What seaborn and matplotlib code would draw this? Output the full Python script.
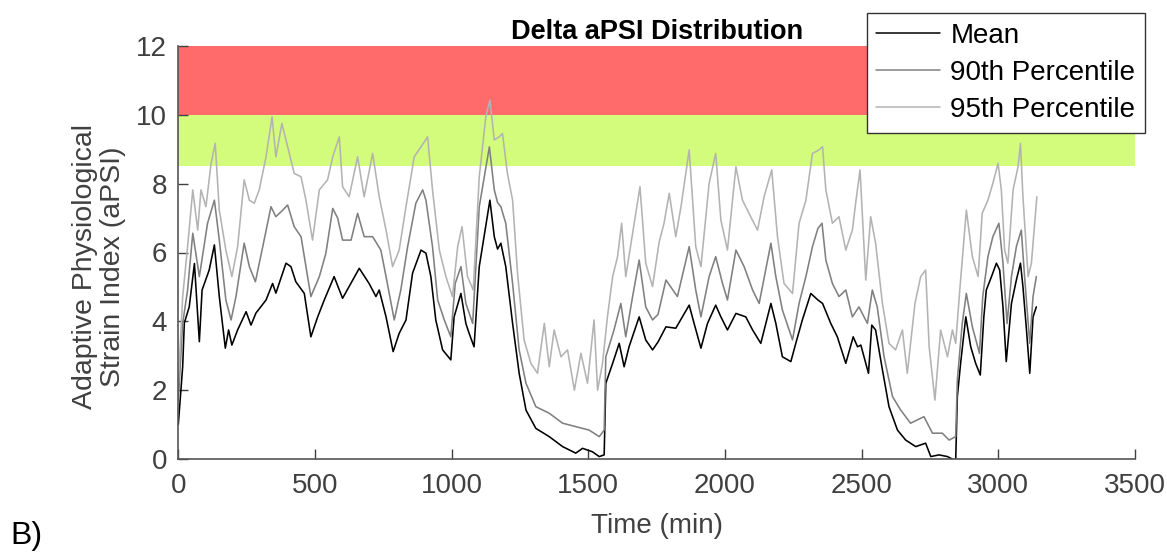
import matplotlib
matplotlib.use("Agg")
import matplotlib.pyplot as plt
import seaborn as sns
import pandas as pd
from matplotlib.lines import Line2D

# ---- data ----
mean_t = [0, 16, 22, 40, 59, 77, 87, 113, 132, 150, 172, 184, 196, 217, 248, 266, 284, 321, 345, 357,
          394, 412, 430, 461, 485, 510, 534, 570, 601, 662, 698, 723, 735, 760, 786, 808, 833, 857, 888,
          906, 924, 942, 967, 997, 1009, 1034, 1052, 1064, 1082, 1101, 1140, 1156, 1168, 1180, 1198, 1223,
          1247, 1272, 1308, 1357, 1406, 1454, 1479, 1515, 1540, 1558, 1564, 1589, 1613, 1631, 1649, 1686,
          1710, 1735, 1755, 1784, 1820, 1869, 1887, 1912, 1936, 1966, 1985, 2009, 2040, 2076, 2101, 2131,
          2168, 2186, 2210, 2241, 2259, 2283, 2314, 2340, 2357, 2387, 2411, 2442, 2469, 2485, 2497, 2525,
          2537, 2551, 2576, 2600, 2631, 2661, 2698, 2734, 2753, 2783, 2814, 2844, 2850, 2862, 2881, 2899,
          2917, 2934, 2947, 2956, 2975, 2993, 3005, 3017, 3029, 3048, 3066, 3081, 3090, 3103, 3115, 3127,
          3139]
mean_v = [1.0, 2.68, 3.95, 4.42, 5.68, 3.41, 4.91, 5.49, 6.22, 4.72, 3.22, 3.75, 3.31, 3.75, 4.28, 3.89,
          4.24, 4.62, 5.10, 4.82, 5.69, 5.59, 5.15, 4.81, 3.55, 4.13, 4.62, 5.30, 4.67, 5.54, 5.10, 4.72,
          4.91, 4.13, 3.12, 3.65, 4.04, 5.40, 6.07, 5.98, 5.30, 4.04, 3.17, 2.88, 4.13, 4.81, 3.94, 3.65,
          3.26, 5.59, 7.52, 6.46, 6.10, 6.27, 5.59, 3.94, 2.49, 1.42, 0.89, 0.65, 0.36, 0.17, 0.31, 0.21,
          0.07, 0.12, 2.20, 2.78, 3.36, 2.68, 3.26, 4.13, 3.46, 3.17, 3.40, 3.84, 3.80, 4.47, 3.94, 3.22,
          3.94, 4.47, 4.13, 3.75, 4.23, 4.13, 3.75, 3.36, 4.52, 3.94, 2.97, 2.83, 3.36, 4.04, 4.81, 4.62,
          4.52, 3.94, 3.55, 2.78, 3.55, 3.26, 3.31, 2.49, 3.89, 3.75, 2.59, 1.52, 0.84, 0.55, 0.36, 0.46,
          0.07, 0.12, 0.07, -0.05, 1.81, 2.78, 4.13, 3.26, 2.78, 2.44, 4.13, 4.91, 5.30, 5.69, 5.49, 4.42,
          2.83, 4.52, 5.20, 5.69, 5.01, 3.75, 2.49, 4.13, 4.42]

p90_t = [0, 16, 34, 53, 77, 107, 132, 150, 174, 193, 211, 241, 260, 282, 309, 339, 357, 382, 400, 424,
         449, 485, 516, 540, 565, 583, 601, 632, 656, 680, 711, 741, 760, 790, 814, 839, 869, 894, 906,
         930, 949, 973, 997, 1013, 1034, 1052, 1077, 1101, 1138, 1156, 1168, 1180, 1198, 1223, 1247, 1272,
         1308, 1357, 1406, 1454, 1503, 1540, 1558, 1564, 1594, 1619, 1637, 1662, 1686, 1710, 1735, 1755,
         1784, 1826, 1869, 1893, 1912, 1942, 1966, 1991, 2009, 2040, 2070, 2101, 2125, 2168, 2186, 2210,
         2247, 2271, 2296, 2320, 2340, 2355, 2369, 2393, 2417, 2442, 2466, 2490, 2521, 2539, 2557, 2582,
         2613, 2643, 2679, 2728, 2759, 2795, 2820, 2844, 2850, 2868, 2883, 2905, 2931, 2943, 2962, 2980,
         3002, 3017, 3032, 3048, 3066, 3084, 3096, 3115, 3127, 3139]
p90_v = [1.7, 3.94, 4.91, 6.56, 5.30, 6.85, 7.52, 6.36, 4.62, 4.04, 4.72, 6.27, 5.59, 5.15, 6.17, 7.33,
         7.04, 7.23, 7.38, 6.75, 6.46, 4.72, 5.30, 5.98, 7.28, 7.00, 6.36, 6.36, 7.14, 6.46, 6.46, 6.07,
         5.30, 4.04, 4.91, 6.17, 7.43, 7.82, 7.52, 6.17, 4.62, 4.04, 3.55, 5.10, 5.59, 4.52, 3.94, 7.33,
         9.07, 7.82, 7.45, 7.33, 6.85, 5.10, 3.17, 2.20, 1.52, 1.33, 1.04, 0.94, 0.84, 0.65, 0.84, 2.97,
         3.75, 4.52, 3.55, 4.72, 5.78, 4.42, 4.04, 4.20, 5.20, 4.72, 6.17, 4.91, 4.13, 5.30, 5.88, 5.10,
         4.62, 6.07, 5.59, 4.91, 4.52, 6.27, 5.30, 4.33, 3.46, 4.52, 5.30, 6.17, 6.70, 6.85, 5.78, 5.10,
         4.72, 4.91, 4.13, 4.42, 3.94, 4.91, 4.42, 2.97, 1.81, 1.42, 1.04, 1.23, 0.75, 0.75, 0.55, 0.65,
         2.30, 3.94, 4.81, 3.84, 3.07, 4.72, 5.88, 6.46, 6.85, 5.69, 3.94, 5.30, 6.17, 6.65, 5.30, 3.36,
         4.72, 5.30]

p95_t = [0, 16, 34, 53, 71, 83, 101, 120, 135, 150, 174, 196, 217, 241, 260, 278, 296, 321, 343, 357,
         379, 400, 424, 449, 467, 491, 516, 546, 565, 589, 601, 625, 656, 680, 711, 735, 760, 784, 808,
         833, 863, 888, 912, 930, 955, 979, 1003, 1022, 1038, 1058, 1079, 1101, 1125, 1140, 1156, 1174,
         1186, 1204, 1223, 1241, 1265, 1290, 1314, 1339, 1357, 1375, 1400, 1424, 1449, 1473, 1497, 1521,
         1534, 1552, 1570, 1589, 1607, 1622, 1637, 1662, 1689, 1710, 1735, 1759, 1777, 1796, 1820, 1839,
         1869, 1893, 1912, 1942, 1966, 1985, 2009, 2040, 2064, 2094, 2119, 2143, 2171, 2192, 2216, 2247,
         2271, 2296, 2320, 2344, 2357, 2369, 2393, 2417, 2442, 2466, 2478, 2494, 2515, 2533, 2551, 2576,
         2600, 2624, 2649, 2667, 2695, 2716, 2734, 2747, 2768, 2789, 2814, 2832, 2844, 2859, 2883, 2905,
         2926, 2941, 2962, 2980, 2999, 3011, 3023, 3035, 3054, 3072, 3081, 3090, 3109, 3121, 3133, 3141]
p95_v = [2.2, 4.72, 6.17, 7.82, 6.65, 7.82, 7.33, 8.59, 9.17, 7.23, 6.07, 5.30, 6.17, 8.11, 7.52, 7.43,
         7.82, 8.78, 9.94, 8.78, 9.75, 9.07, 8.30, 8.20, 7.52, 6.36, 7.82, 8.11, 8.78, 9.36, 7.91, 7.62,
         8.78, 7.62, 8.88, 7.62, 6.65, 5.59, 6.07, 7.33, 8.78, 9.07, 9.36, 7.82, 6.07, 5.30, 4.72, 6.17,
         6.75, 5.30, 4.91, 8.20, 9.94, 10.43, 9.27, 9.36, 9.46, 8.30, 7.52, 5.40, 3.46, 2.78, 2.49, 3.94,
         2.68, 3.75, 2.97, 3.17, 2.00, 3.07, 2.20, 4.04, 2.00, 2.78, 4.13, 5.30, 5.88, 6.85, 5.30, 6.56,
         7.91, 5.69, 5.01, 6.30, 6.85, 7.72, 6.46, 7.33, 8.98, 6.17, 5.59, 8.01, 8.88, 6.94, 6.07, 8.49,
         7.52, 7.04, 6.65, 7.62, 8.40, 6.46, 5.10, 4.81, 6.85, 7.52, 8.88, 8.98, 9.07, 7.82, 6.85, 7.04,
         6.07, 6.65, 7.43, 8.40, 5.20, 7.04, 6.27, 4.52, 3.36, 3.17, 3.75, 2.49, 4.52, 5.30, 5.49, 3.26,
         1.71, 3.75, 2.97, 3.75, 3.36, 4.91, 7.23, 5.88, 5.30, 7.14, 7.52, 8.01, 8.59, 7.82, 6.07, 5.69,
         7.82, 8.49, 9.17, 7.62, 5.30, 5.69, 6.85, 7.62]

series_names = ["Mean", "90th Percentile", "95th Percentile"]
series_colors = ["#000000", "#808080", "#b3b3b3"]
red_zone = (10, 12)
green_zone = (8.5, 10)
x_ticks = [0, 500, 1000, 1500, 2000, 2500, 3000, 3500]
y_ticks = [0, 2, 4, 6, 8, 10, 12]

df = pd.concat([
    pd.DataFrame({"Time": mean_t, "aPSI": mean_v, "Series": series_names[0]}),
    pd.DataFrame({"Time": p90_t, "aPSI": p90_v, "Series": series_names[1]}),
    pd.DataFrame({"Time": p95_t, "aPSI": p95_v, "Series": series_names[2]}),
], ignore_index=True)

sns.set_theme(style="white")
plt.rcParams["font.family"] = ["Liberation Sans", "DejaVu Sans"]

W, H = 1167, 560
fig = plt.figure(figsize=(W / 100, H / 100), dpi=100)
ax = fig.add_axes([178.3 / W, 1 - 459 / H, (1135 - 178.3) / W, (459 - 46) / H])

ax.axhspan(red_zone[0], red_zone[1], color="#ff6b6b", lw=0, zorder=0)
ax.axhspan(green_zone[0], green_zone[1], color="#d4fc7c", lw=0, zorder=0)

sns.lineplot(data=df, x="Time", y="aPSI", hue="Series", hue_order=series_names,
             palette=dict(zip(series_names, series_colors)), sort=False,
             estimator=None, linewidth=1.15, ax=ax, legend=False, zorder=2)

ax.set_xlim(0, 3500)
ax.set_ylim(0, 12)
ax.set_xticks(x_ticks)
ax.set_yticks(y_ticks)
tick_color = "#404040"
ax.tick_params(axis="both", direction="in", length=7.2, width=1, colors=tick_color,
               labelsize=20, labelcolor=tick_color, left=True, bottom=True)
ax.tick_params(axis="x", pad=10)
ax.tick_params(axis="y", pad=8)
for s in ["top", "right"]:
    ax.spines[s].set_visible(False)
for s in ["left", "bottom"]:
    ax.spines[s].set_color("#555555")
    ax.spines[s].set_linewidth(1.2)

ax.set_xlabel("Time (min)", fontsize=20, color=tick_color, labelpad=10)
ax.set_ylabel("Adaptive Physiological\nStrain Index (aPSI)", fontsize=20.5, color=tick_color,
              linespacing=1.1)
ax.yaxis.set_label_coords(-0.055, 0.465)
ax.set_title("Delta aPSI Distribution", fontsize=19.5, fontweight="bold", color="black", pad=5)

handles = [Line2D([], [], color=c, lw=1.1) for c in series_colors]
leg = fig.legend(handles, series_names, loc="upper right",
                 bbox_to_anchor=(1145 / W, 1 - 13 / H), bbox_transform=fig.transFigure,
                 fontsize=20, frameon=True, fancybox=False, framealpha=1,
                 edgecolor="#333333", handlelength=2.3, handletextpad=0.36,
                 labelspacing=0.4, borderpad=0.35, borderaxespad=0)
leg.get_frame().set_linewidth(1.0)
for t in leg.get_texts():
    t.set_color("black")

fig.text(10 / W, 1 - 536 / H, "B)", fontsize=23, color="black", va="center", ha="left")

fig.savefig("out.png", dpi=100)
